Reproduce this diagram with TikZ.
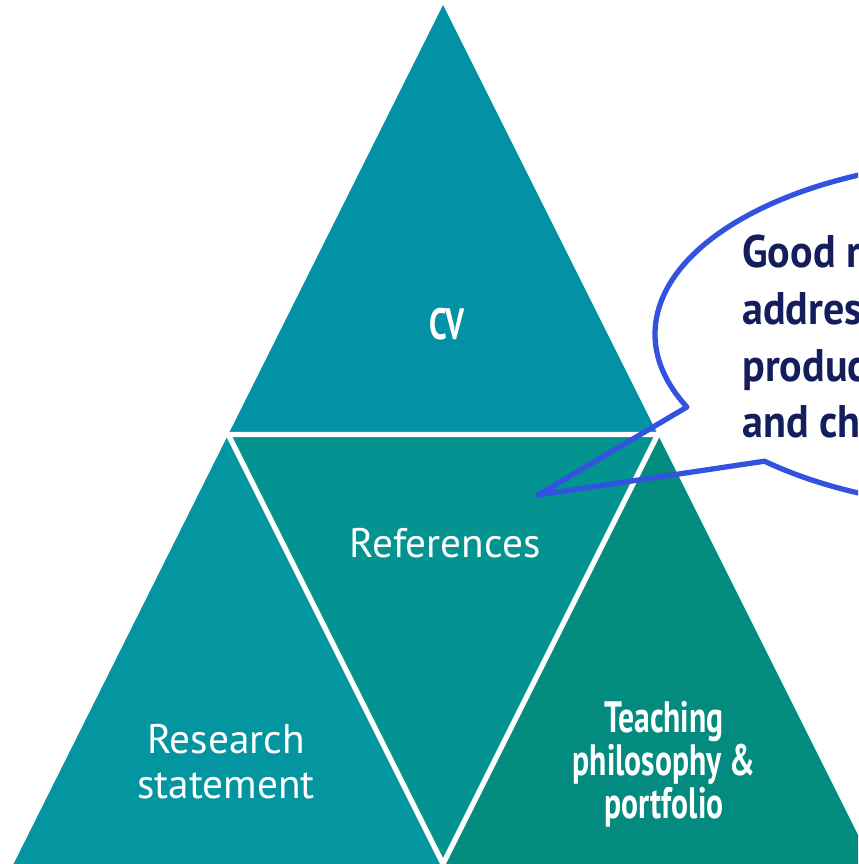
\documentclass[tikz,border=0pt]{standalone}
\usepackage{fontspec}
\setmainfont{PT Sans}
\newfontfamily\condfont{PT Sans}[FakeStretch=0.72]
\newfontfamily\notefont{PT Sans}[FakeStretch=0.92]
\definecolor{cvblue}{HTML}{0391A6}
\definecolor{refteal}{HTML}{039491}
\definecolor{resteal}{HTML}{0396A0}
\definecolor{teachgreen}{HTML}{048B80}
\definecolor{bubbleblue}{HTML}{3352E0}
\definecolor{notenavy}{HTML}{141E5C}
\begin{document}
\begin{tikzpicture}[x=0.02cm, y=0.02cm,
    label text/.style={text=white, align=center,
        font={\fontsize{23.5}{25.5}\selectfont}},
    bold label/.style={text=white, align=center,
        font={\condfont\bfseries\fontsize{25}{24.5}\selectfont}},
    bubble/.style={draw=bubbleblue, line width=3pt, line join=round}]

    \clip (0,0) rectangle (858,864);

    % Pyramid corners
    \coordinate (apex)      at (443,859);
    \coordinate (midleft)   at (228.25,429.5);
    \coordinate (midright)  at (657.75,429.5);
    \coordinate (baseleft)  at (13.5,0);
    \coordinate (basemid)   at (443,0);
    \coordinate (baseright) at (872.5,0);

    % Triangles
    \fill[cvblue]     (apex) -- (midleft) -- (midright) -- cycle;
    \fill[resteal]    (midleft) -- (baseleft) -- (basemid) -- cycle;
    \fill[refteal]    (midleft) -- (midright) -- (basemid) -- cycle;
    \fill[teachgreen] (midright) -- (basemid) -- (baseright) -- cycle;
    % white gaps
    \draw[white, line width=3pt] (midleft) -- (midright) -- (basemid) -- cycle;

    % Labels
    \node[bold label]  (cv)       at (447,540) {CV};
    \node[label text]  (refs)     at (445,321) {References};
    \node[label text]  (research) at (226,102) {Research\\statement};
    \node[bold label]  (teaching) at (664,100) {Teaching\\philosophy \&\\portfolio};

    % Callout
    \coordinate (tip) at (538,369);
    \draw[bubble] (tip) -- (764.5,402.8)
        arc[start angle=226.6, end angle=564.65, x radius=7cm, y radius=3.5cm]
        -- cycle;
    \node[anchor=base west, align=left, inner sep=0pt, text=notenavy,
        font={\notefont\bfseries\fontsize{26}{32.3}\selectfont}] (note) at (742,426)
        {Good references\\address\\productivity\\and character};

\end{tikzpicture}
\end{document}
